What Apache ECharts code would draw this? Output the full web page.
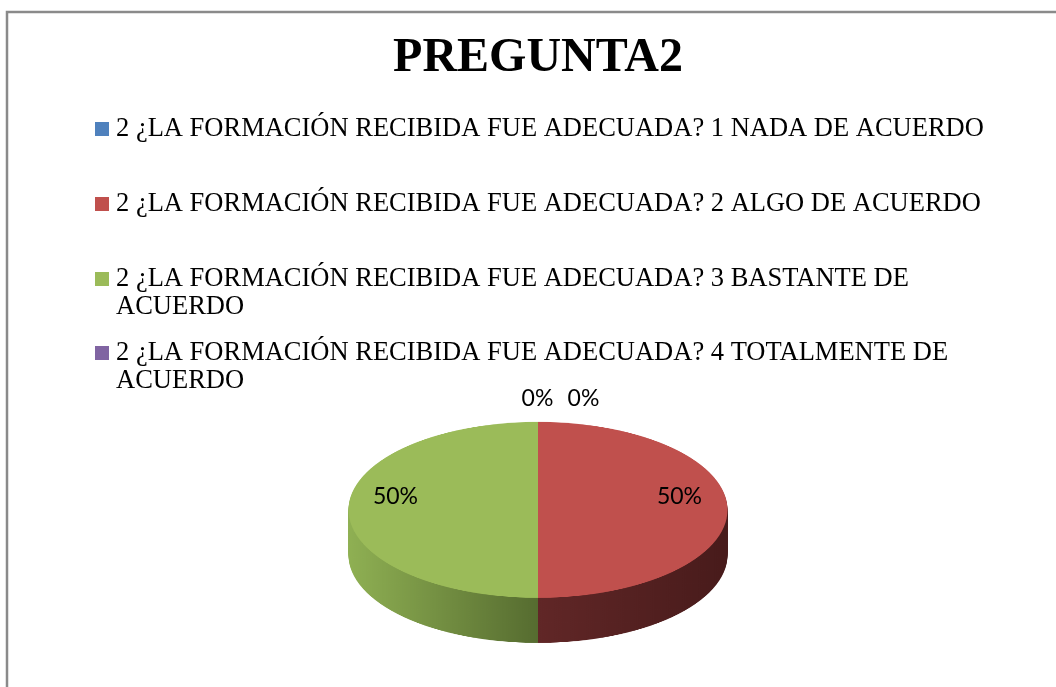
<!DOCTYPE html>
<html>
<head>
<meta charset="utf-8">
<script src="https://cdn.jsdelivr.net/npm/echarts@6/dist/echarts.min.js"></script>
<style>
  body { margin: 0; background: #fff; }
  #disc {
    position: absolute; left: 337.5px; top: 417px;
    width: 400px; height: 520px;
    transform-origin: 0 0; transform: scaleY(0.4644);
  }
  #main { position: absolute; left: 0; top: 0; width: 1056px; height: 687px; }
</style>
</head>
<body>
<div id="disc"></div>
<div id="main"></div>
<script>
const title = 'PREGUNTA2'
const categories = [
  '2 ¿LA FORMACIÓN RECIBIDA FUE ADECUADA? 1 NADA DE ACUERDO',
  '2 ¿LA FORMACIÓN RECIBIDA FUE ADECUADA? 2 ALGO DE ACUERDO',
  '2 ¿LA FORMACIÓN RECIBIDA FUE ADECUADA? 3 BASTANTE DE ACUERDO',
  '2 ¿LA FORMACIÓN RECIBIDA FUE ADECUADA? 4 TOTALMENTE DE ACUERDO'
]
const values = [0, 50, 50, 0]

const colors = ['#4f81bd', '#c0504d', '#9bbb59', '#8064a2']
const sideFrom = ['#41699a', '#612727', '#8fb053', '#6a5388']
const sideTo = ['#2b4566', '#481b1b', '#566c30', '#46375a']

// 3d disc: stacked pies, squashed by the css transform on #disc
const disc = echarts.init(document.getElementById('disc'))
const R = 189.5
const depth = 97
const steps = 48
const discSeries = []
for (let i = steps; i >= 0; i--) {
  const isTop = i === 0
  discSeries.push({
    type: 'pie',
    silent: true,
    animation: false,
    startAngle: 90,
    center: [200, 200 + depth * i / steps],
    radius: [0, R],
    label: { show: false },
    labelLine: { show: false },
    itemStyle: { borderWidth: 0 },
    data: categories.map((name, k) => ({
      name,
      value: values[k],
      itemStyle: {
        color: isTop ? colors[k] : new echarts.graphic.LinearGradient(0, 0, 1, 0, [
          { offset: 0, color: sideFrom[k] },
          { offset: 1, color: sideTo[k] }
        ])
      }
    }))
  })
}
disc.setOption({ series: discSeries })

// title, legend and labels
const chart = echarts.init(document.getElementById('main'))
const legendIconY = [129, 204, 279, 353]
const legendLines = [1, 1, 2, 2]
const lineH = 28

const option = {
  graphic: [{
    type: 'rect',
    silent: true,
    shape: { x: 7, y: 12, width: 1100, height: 720 },
    style: { fill: 'none', stroke: '#8a8a8a', lineWidth: 2.5 }
  }],
  title: {
    text: title,
    left: 538,
    textAlign: 'center',
    top: 35,
    padding: 0,
    textStyle: { fontFamily: 'Liberation Serif', fontSize: 48, fontWeight: 'bold', color: '#000' }
  },
  legend: categories.map((name, k) => ({
    orient: 'vertical',
    left: 95,
    // blank lines in front keep the icon level with the first text line
    top: legendIconY[k] - (2 * legendLines[k] - 1) * lineH / 2,
    padding: 0,
    icon: 'rect',
    itemWidth: 14,
    itemHeight: 14,
    selectedMode: false,
    data: [{ name, itemStyle: { color: colors[k], opacity: 1 } }],
    formatter: n => '\n'.repeat(legendLines[k] - 1) + n,
    textStyle: {
      fontFamily: 'Liberation Serif',
      fontSize: 26.5,
      lineHeight: lineH,
      color: '#000',
      width: 915,
      overflow: 'break',
      padding: [0, 0, 0, 2]
    }
  })),
  series: [{
    type: 'pie',
    silent: true,
    animation: false,
    startAngle: 90,
    center: [537.5, 497],
    radius: [88, 190],
    itemStyle: { color: 'rgba(0,0,0,0)', borderWidth: 0 },
    label: {
      show: true,
      position: 'inside',
      formatter: '{d}%',
      fontFamily: 'Lato',
      fontSize: 23,
      color: '#000'
    },
    labelLine: { show: false },
    labelLayout: function (p) {
      if (values[p.dataIndex] !== 0) return {}
      const rank = values.slice(0, p.dataIndex).filter(v => v === 0).length
      return { dx: rank * 46, dy: 44 }
    },
    data: categories.map((name, k) => ({ name, value: values[k] }))
  }]
}
chart.setOption(option)
</script>
</body>
</html>
